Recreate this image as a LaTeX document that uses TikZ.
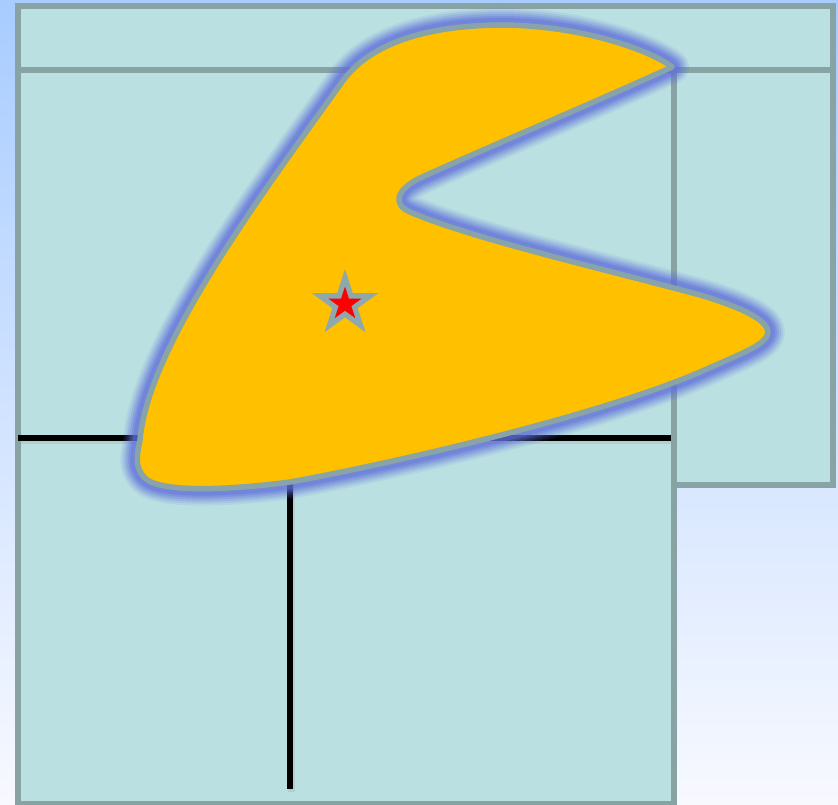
\documentclass[tikz,border=0pt]{standalone}
\usetikzlibrary{shapes.geometric}
\definecolor{bgtop}{HTML}{A8CCFF}
\definecolor{bgbot}{HTML}{F8F9FF}
\definecolor{panelfill}{HTML}{BBE0E2}
\definecolor{panelline}{HTML}{88A3A3}
\definecolor{boomfill}{HTML}{FFC000}
\definecolor{boomline}{HTML}{88A4A8}
\definecolor{glowblue}{HTML}{5F70DA}
\definecolor{stargray}{HTML}{8FA8AB}
\tikzset{
  panel/.style={fill=panelfill, draw=panelline, line width=5.5pt},
  divider/.style={draw=black, line width=5.5pt},
  dividershadow/.style={draw=black!40, line width=7pt, opacity=0.25},
  glow/.style={draw=glowblue, line join=round},
  boom/.style={fill=boomfill, draw=boomline, line width=5.5pt, line join=round},
  starmark/.style={star, star points=5, star point ratio=2.618, inner sep=0pt, draw=none}
}
\def\boompath{(672,67) .. controls (600,100) and (470,155) .. (420,178)
  .. controls (395,190) and (393,205) .. (410,212)
  .. controls (470,238) and (600,268) .. (700,295)
  .. controls (750,310) and (768,322) .. (768,333)
  .. controls (765,345) and (745,352) .. (700,372)
  .. controls (600,415) and (400,462) .. (290,482)
  .. controls (230,490) and (160,493) .. (145,478)
  .. controls (134,467) and (137,455) .. (140,440)
  .. controls (148,345) and (265,190) .. (342,82)
  .. controls (362,54) and (405,26) .. (500,25)
  .. controls (580,25) and (650,50) .. (672,67) -- cycle}
\begin{document}
\begin{tikzpicture}[x=1pt,y=-1pt]
\shade[top color=bgtop, bottom color=bgbot] (0,0) rectangle (838,805);
\useasboundingbox (0,0) rectangle (838,805);
% panels
\draw[panel] (18,6) rectangle (833,70);
\draw[panel] (674,70) rectangle (833,485);
\draw[panel] (18,70) rectangle (674,804);
% dividers
\coordinate (hl) at (18,438);
\coordinate (hr) at (671,438);
\coordinate (vt) at (290,438);
\coordinate (vb) at (290,789);
\draw[dividershadow] ([shift={(1.5,2.5)}]hl) -- ([shift={(1.5,2.5)}]hr);
\draw[dividershadow] ([shift={(1.5,2.5)}]vt) -- ([shift={(1.5,2.5)}]vb);
\draw[divider] (hl) -- (hr);
\draw[divider] (vt) -- (vb);
% boomerang glow
\foreach \w/\o in {34/0.1, 30/0.14, 26/0.18, 22/0.24, 18/0.3, 14/0.4}
  \draw[glow, line width=\w pt, opacity=\o] \boompath;
\draw[boom] \boompath;
% star
\node[starmark, fill=stargray, minimum size=70pt] (staro) at (345,304) {};
\node[starmark, fill=red, minimum size=35pt] (stari) at (345,304) {};
\end{tikzpicture}
\end{document}
